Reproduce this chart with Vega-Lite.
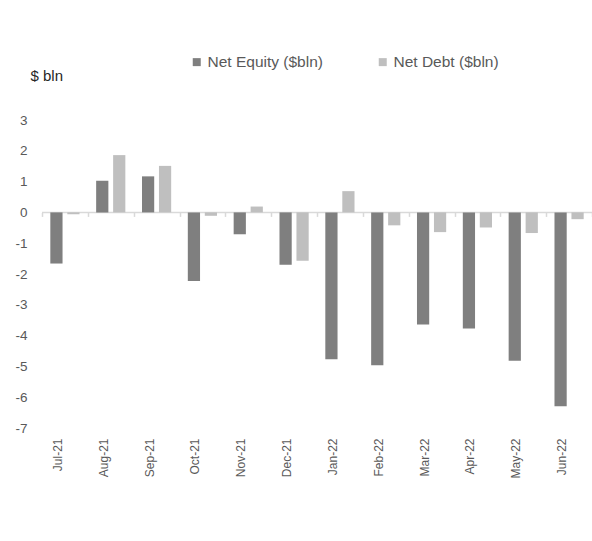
{
  "$schema": "https://vega.github.io/schema/vega-lite/v6.json",
  "autosize": "none",
  "width": 550,
  "height": 308,
  "padding": {"left": 42, "top": 120, "right": 0, "bottom": 113},
  "background": "#ffffff",
  "config": {
    "view": {"stroke": null},
    "font": "Liberation Sans",
    "axis": {"labelFont": "Liberation Sans", "titleFont": "Liberation Sans"},
    "axisY": {"labelOverlap": false},
    "legend": {"labelFont": "Liberation Sans"}
  },
  "data": {"values": [
    {"month": "Jul-21", "series": "Net Equity ($bln)", "value": -1.66},
    {"month": "Jul-21", "series": "Net Debt ($bln)", "value": -0.06},
    {"month": "Aug-21", "series": "Net Equity ($bln)", "value": 1.03},
    {"month": "Aug-21", "series": "Net Debt ($bln)", "value": 1.86},
    {"month": "Sep-21", "series": "Net Equity ($bln)", "value": 1.17},
    {"month": "Sep-21", "series": "Net Debt ($bln)", "value": 1.51},
    {"month": "Oct-21", "series": "Net Equity ($bln)", "value": -2.23},
    {"month": "Oct-21", "series": "Net Debt ($bln)", "value": -0.11},
    {"month": "Nov-21", "series": "Net Equity ($bln)", "value": -0.71},
    {"month": "Nov-21", "series": "Net Debt ($bln)", "value": 0.19},
    {"month": "Dec-21", "series": "Net Equity ($bln)", "value": -1.70},
    {"month": "Dec-21", "series": "Net Debt ($bln)", "value": -1.57},
    {"month": "Jan-22", "series": "Net Equity ($bln)", "value": -4.77},
    {"month": "Jan-22", "series": "Net Debt ($bln)", "value": 0.69},
    {"month": "Feb-22", "series": "Net Equity ($bln)", "value": -4.96},
    {"month": "Feb-22", "series": "Net Debt ($bln)", "value": -0.42},
    {"month": "Mar-22", "series": "Net Equity ($bln)", "value": -3.64},
    {"month": "Mar-22", "series": "Net Debt ($bln)", "value": -0.64},
    {"month": "Apr-22", "series": "Net Equity ($bln)", "value": -3.77},
    {"month": "Apr-22", "series": "Net Debt ($bln)", "value": -0.49},
    {"month": "May-22", "series": "Net Equity ($bln)", "value": -4.82},
    {"month": "May-22", "series": "Net Debt ($bln)", "value": -0.67},
    {"month": "Jun-22", "series": "Net Equity ($bln)", "value": -6.29},
    {"month": "Jun-22", "series": "Net Debt ($bln)", "value": -0.22}
  ]},
  "layer": [
    {
      "data": {"values": [{"zero": 0}]},
      "mark": {"type": "rule", "color": "#d9d9d9", "strokeWidth": 1.5},
      "encoding": {
        "y": {
          "field": "zero", "type": "quantitative", "scale": {"domain": [-7, 3], "nice": false},
          "axis": {
            "values": [-7, -6, -5, -4, -3, -2, -1, 0, 1, 2, 3], "tickCount": 11,
            "labelExpr": "'' + datum.value", "labelOverlap": false,
            "grid": false, "domain": false, "ticks": false,
            "labelPadding": 15, "labelFontSize": 13.5, "labelColor": "#595959",
            "title": "$ bln", "titleAngle": 0, "titleX": -12, "titleY": -45,
            "titleAlign": "left", "titleBaseline": "middle", "titleFontWeight": "normal",
            "titleFontSize": 15, "titleColor": "#262626"
          }
        }
      }
    },
    {
      "mark": {"type": "bar"},
      "encoding": {
        "x": {
          "field": "month", "type": "nominal", "sort": null,
          "scale": {"paddingInner": 0, "paddingOuter": 0},
          "axis": {
            "orient": "bottom", "title": null, "labelAngle": -90, "labelAlign": "right",
            "labelBaseline": "middle", "labelOffset": -7, "labelPadding": 10,
            "labelFontSize": 12, "labelColor": "#595959", "domain": false, "ticks": false
          }
        },
        "xOffset": {
          "field": "series", "type": "nominal",
          "scale": {"domain": ["Net Equity ($bln)", "Net Debt ($bln)"], "paddingInner": 0.28, "paddingOuter": 0.49}
        },
        "y": {
          "field": "value", "type": "quantitative",
          "scale": {"domain": [-7, 3], "nice": false, "zero": false},
          "axis": {
            "values": [-7, -6, -5, -4, -3, -2, -1, 0, 1, 2, 3], "tickCount": 11,
            "labelExpr": "'' + datum.value", "labelOverlap": false,
            "grid": false, "domain": false, "ticks": false,
            "labelPadding": 15, "labelFontSize": 13.5, "labelColor": "#595959",
            "title": "$ bln", "titleAngle": 0, "titleX": -12, "titleY": -45,
            "titleAlign": "left", "titleBaseline": "middle", "titleFontWeight": "normal",
            "titleFontSize": 15, "titleColor": "#262626"
          }
        },
        "color": {
          "field": "series", "type": "nominal",
          "scale": {"domain": ["Net Equity ($bln)", "Net Debt ($bln)"], "range": ["#7f7f7f", "#bfbfbf"]},
          "legend": {
            "title": null, "orient": "none", "direction": "horizontal",
            "legendX": 147, "legendY": -66, "symbolType": "square", "symbolSize": 64,
            "symbolStrokeWidth": 0, "labelFontSize": 15.5, "labelColor": "#595959",
            "labelOffset": 3, "columnPadding": 52
          }
        }
      }
    },
    {
      "mark": {"type": "bar", "opacity": 0},
      "encoding": {
        "x": {
          "field": "month", "type": "nominal", "sort": null,
          "axis": {
            "orient": "bottom", "offset": -215.6, "title": null, "labels": false,
            "domain": false, "ticks": true, "tickBand": "extent", "tickSize": 4,
            "tickColor": "#d9d9d9", "tickWidth": 1.5
          }
        },
        "y": {"field": "value", "type": "quantitative"}
      }
    }
  ],
  "resolve": {"axis": {"x": "independent"}}
}
